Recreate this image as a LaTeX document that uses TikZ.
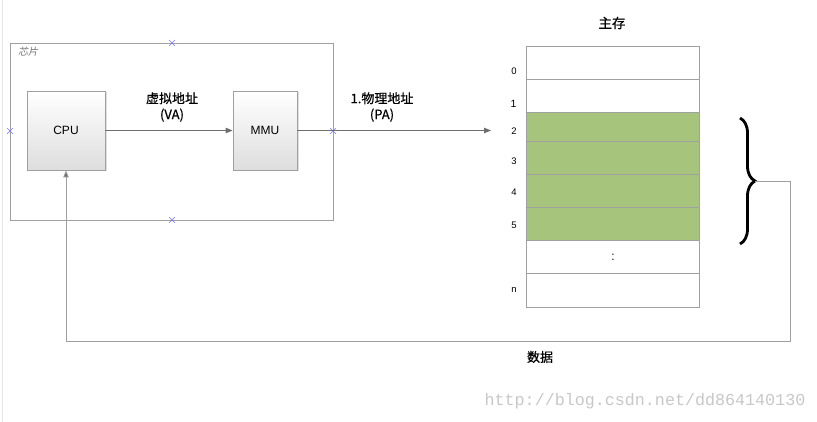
\documentclass[tikz,border=0pt]{standalone}
\usepackage{fontspec}
\setmainfont{Liberation Sans}
\newfontfamily\cjk[FakeBold=0.6]{Noto Sans CJK SC}
\newfontfamily\cjkit[FakeSlant=0.2]{Noto Sans CJK SC}
\newfontfamily\wmfont{Liberation Mono}
\usetikzlibrary{arrows.meta,shadows,shapes.misc,decorations.pathreplacing}
\definecolor{boxgray}{HTML}{A0A0A0}
\definecolor{linegray}{HTML}{6E6E6E}
\definecolor{retgray}{HTML}{A0A0A0}
\definecolor{memgreen}{HTML}{A6C47C}
\definecolor{xblue}{HTML}{7777FF}
\definecolor{wmgray}{HTML}{C8C8C8}
\begin{document}
\begin{tikzpicture}[x=1pt,y=-1pt,
  unitbox/.style={draw=boxgray, line width=0.8pt, top color=white, bottom color=black!13,
    drop shadow={shadow xshift=1.5pt,shadow yshift=-1.5pt,opacity=0.25},
    inner sep=0pt, font=\fontsize{12}{14}\selectfont},
  cell/.style={draw=boxgray, line width=0.9pt, minimum width=173pt, inner sep=0pt, anchor=north west},
  greencell/.style={cell, fill=memgreen},
  rowlbl/.style={font=\fontsize{9.5}{11}\selectfont, inner sep=0pt},
  cjklbl/.style={font=\cjk\fontsize{13}{16}\selectfont, align=center, inner sep=0pt},
  xmark/.style={draw=xblue, cross out, minimum size=5pt, inner sep=0pt, line width=0.6pt},
  arr/.style={draw=linegray, line width=0.8pt, -{Triangle[length=7pt,width=5.5pt]}},
  retline/.style={draw=retgray, line width=0.8pt, -{Triangle[length=7pt,width=5.5pt,fill=linegray]}}
]
\useasboundingbox (0,0) rectangle (817,422);
\fill[white] (0,0) rectangle (817,422);
\draw[black!10, line width=0.8pt] (2,0) -- (2,422);

% chip
\node[draw=boxgray, line width=0.8pt, minimum width=323pt, minimum height=177pt, inner sep=0pt] (chip) at (171.5,131.5) {};
\node[font=\cjkit\fontsize{10}{12}\selectfont, text=black!55, anchor=west, inner sep=0pt] (chiplbl) at (18,52) {芯片};
\node[xmark] (x1) at (172,43) {};
\node[xmark] (x2) at (172,220) {};
\node[xmark] (x3) at (10,131) {};
\node[xmark] (x4) at (333,131) {};

% units
\node[unitbox, minimum width=78pt, minimum height=79pt] (cpu) at (66,130.5) {CPU};
\node[unitbox, minimum width=64pt, minimum height=79pt] (mmu) at (265,130.5) {MMU};

\draw[arr] (cpu.east) -- (mmu.west);
\node[cjklbl] (va) at (172,107) {虚拟地址\\(VA)};

\coordinate (paend) at (491,130.5);
\draw[arr] (mmu.east) -- (paend);
\node[cjklbl] (pa) at (382,107) {1.物理地址\\(PA)};

% memory
\node[cjklbl, font=\cjk\fontsize{13.5}{16}\selectfont] (title) at (612,23) {主存};
\node[cell, minimum height=33pt] (m0) at (526,46) {};
\node[cell, minimum height=33pt] (m1) at (526,79) {};
\node[greencell, minimum height=29.5pt] (m2) at (526,112) {};
\node[greencell, minimum height=33pt] (m3) at (526,141.5) {};
\node[greencell, minimum height=33pt] (m4) at (526,174.5) {};
\node[greencell, minimum height=33pt] (m5) at (526,207.5) {};
\node[cell, minimum height=33pt] (m6) at (526,240.5) {};
\node[cell, minimum height=33pt] (mn) at (526,273.5) {};
\node[font=\fontsize{12}{14}\selectfont, inner sep=0pt] (dots) at (m6.center) {:};

\node[rowlbl] (l0) at (514,71) {0};
\node[rowlbl, font=\fontsize{10.5}{12}\selectfont] (l1) at (513.5,104) {1};
\node[rowlbl] (l2) at (514,131) {2};
\node[rowlbl] (l3) at (514,161) {3};
\node[rowlbl] (l4) at (514,192) {4};
\node[rowlbl] (l5) at (514,225) {5};
\node[rowlbl] (ln) at (514,290) {n};

% brace
\draw[decorate, decoration={brace, amplitude=15pt}, line width=2.8pt] (740,118) -- (740,244);
\coordinate (bt) at (755,181);
\coordinate (rc) at (790,341);
\draw[retline] (bt) -- (rc |- bt) -- (rc) -- (cpu.south |- rc) -- (cpu.south);
\node[cjklbl] (data) at (540,357) {数据};

% watermark
\node[font=\wmfont\fontsize{16.7}{18}\selectfont, text=wmgray, inner sep=0pt] (wm) at (645,401) {http://blog.csdn.net/dd864140130};
\end{tikzpicture}
\end{document}
